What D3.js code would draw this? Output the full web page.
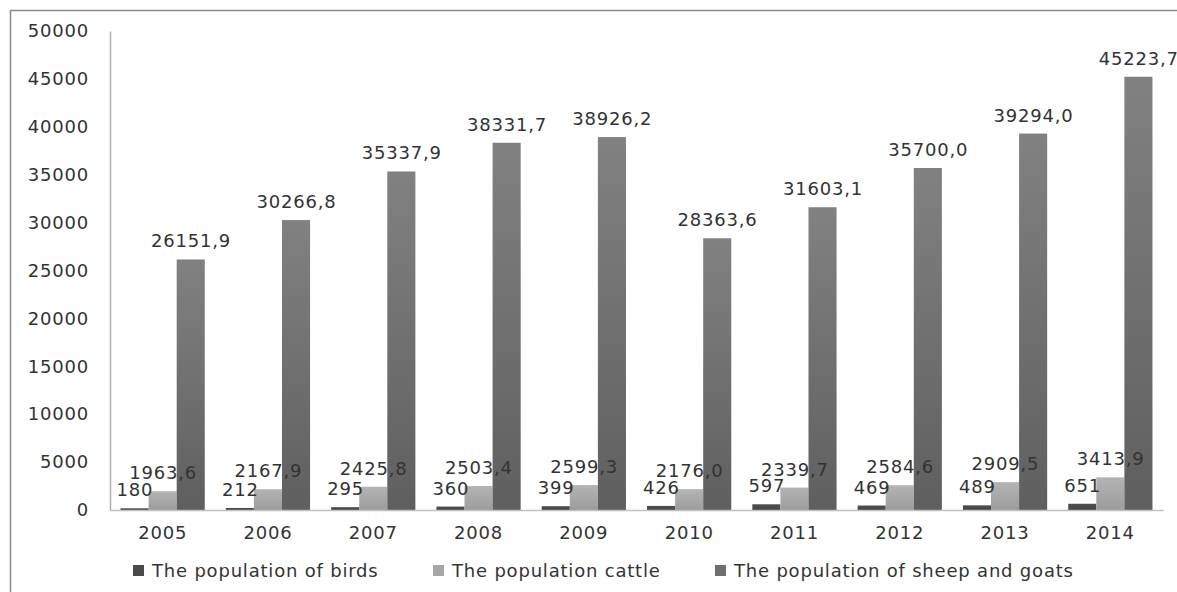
<!DOCTYPE html>
<html>
<head>
<meta charset="utf-8">
<script src="https://cdn.jsdelivr.net/npm/d3@7"></script>
<style>
  body { margin: 0; background: #fff; }
  text { font-family: "DejaVu Sans", sans-serif; fill: #333; letter-spacing: 0.8px; }
</style>
</head>
<body>
<div class="chart"></div>
<script>
(function() {
  var years = ['2005', '2006', '2007', '2008', '2009', '2010', '2011', '2012', '2013', '2014'];
  var birds = [180, 212, 295, 360, 399, 426, 597, 469, 489, 651];
  var cattle = [1963.6, 2167.9, 2425.8, 2503.4, 2599.3, 2176.0, 2339.7, 2584.6, 2909.5, 3413.9];
  var sheep = [26151.9, 30266.8, 35337.9, 38331.7, 38926.2, 28363.6, 31603.1, 35700.0, 39294.0, 45223.7];
  var seriesNames = ['The population of birds', 'The population cattle', 'The population of sheep and goats'];
  var yTicks = [0, 5000, 10000, 15000, 20000, 25000, 30000, 35000, 40000, 45000, 50000];

  var series = [
    { name: seriesNames[0], values: birds, fmt: d3.format('d'), fill: 'url(#gBirds)', key: '#4a4a4a' },
    { name: seriesNames[1], values: cattle, fmt: commaFmt, fill: 'url(#gCattle)', key: '#a6a6a6' },
    { name: seriesNames[2], values: sheep, fmt: commaFmt, fill: 'url(#gSheep)', key: '#6e6e6e' }
  ];

  function commaFmt(v) {
    return v.toFixed(1).replace('.', ',');
  }

  var W = 1177, H = 592, fs = 18;
  var svg = d3.select('.chart').append('svg')
    .attr('width', W).attr('height', H);

  var defs = svg.append('defs');
  var grad = function(id, top, bottom) {
    var g = defs.append('linearGradient').attr('id', id)
      .attr('x1', 0).attr('y1', 0).attr('x2', 0).attr('y2', 1);
    g.append('stop').attr('offset', '0%').attr('stop-color', top);
    g.append('stop').attr('offset', '100%').attr('stop-color', bottom);
  };
  grad('gBirds', '#505050', '#444444');
  grad('gCattle', '#b4b4b4', '#9c9c9c');
  grad('gSheep', '#818181', '#5f5f5f');

  // outer frame (runs off the right and bottom)
  svg.append('path')
    .attr('d', 'M10.5,' + (H + 5) + 'V10.5H' + (W + 5))
    .attr('fill', 'none').attr('stroke', '#8a8a8a').attr('stroke-width', 1.5);

  var x0 = 110, x1 = 1163, yBase = 510, yTop = 31;

  var x = d3.scaleBand().domain(years).range([x0, x1]).paddingInner(0.2).paddingOuter(0.1);
  var xs = d3.scaleBand().domain([0, 1, 2]).range([0, x.bandwidth()]);
  var y = d3.scaleLinear().domain([0, 50000]).range([yBase, yTop]);

  // y axis
  var yAxis = svg.append('g').attr('transform', 'translate(' + x0 + ',0)')
    .call(d3.axisLeft(y).tickValues(yTicks).tickSize(0).tickPadding(21).tickFormat(d3.format('d')));
  yAxis.select('.domain').attr('stroke', '#b0b0b0').attr('stroke-width', 1.5);
  yAxis.selectAll('text').attr('font-size', fs).style('font-family', '"DejaVu Sans", sans-serif').attr('fill', '#333');

  // bars
  var groups = svg.selectAll('.year').data(years)
    .enter().append('g')
      .attr('class', 'year')
      .attr('transform', function(d) { return 'translate(' + x(d) + ',0)'; });

  series.forEach(function(s, si) {
    groups.append('rect')
      .attr('x', xs(si))
      .attr('width', xs.bandwidth())
      .attr('y', function(d, i) { return y(s.values[i]); })
      .attr('height', function(d, i) { return yBase - y(s.values[i]); })
      .attr('fill', s.fill);
  });

  series.forEach(function(s, si) {
    groups.append('text')
      .attr('x', xs(si) + xs.bandwidth() / 2 + 0.4)
      .attr('y', function(d, i) { return y(s.values[i]) - 12; })
      .attr('text-anchor', 'middle')
      .attr('font-size', fs)
      .text(function(d, i) { return s.fmt(s.values[i]); });
  });

  // x axis
  var xAxis = svg.append('g').attr('transform', 'translate(0,' + yBase + ')')
    .call(d3.axisBottom(x).tickSize(0).tickPadding(16).tickSizeOuter(0));
  xAxis.select('.domain').attr('stroke', '#c0c0c0').attr('stroke-width', 1.5);
  xAxis.selectAll('text').attr('font-size', fs).style('font-family', '"DejaVu Sans", sans-serif').attr('fill', '#333');

  // legend
  var legendX = [133, 433, 715];
  var legend = svg.selectAll('.legend').data(series)
    .enter().append('g')
      .attr('class', 'legend')
      .attr('transform', function(d, i) { return 'translate(' + legendX[i] + ',565)'; });
  legend.append('rect').attr('width', 11).attr('height', 11)
    .attr('fill', function(d) { return d.key; });
  legend.append('text').attr('x', 19).attr('y', 12)
    .attr('font-size', fs)
    .text(function(d) { return d.name; });
})();
</script>
</body>
</html>
